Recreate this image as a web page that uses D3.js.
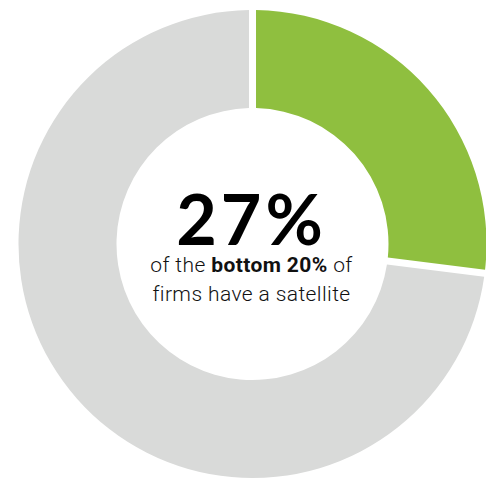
<!DOCTYPE html>
<html>
<head>
<meta charset="utf-8">
<script src="https://cdn.jsdelivr.net/npm/d3@7"></script>
<style>
  html, body { margin: 0; padding: 0; background: #fff; }
  svg { display: block; }
</style>
</head>
<body>
<svg id="chart" width="486" height="479"></svg>
<script>
// Share of bottom-20% firms with a satellite
const categories = ["Have a satellite", "No satellite"];
const values = [27, 73];
const colors = ["#8fbf3f", "#d9dad9"];
const headline = "27%";

const svg = d3.select("#chart");
const cx = 252.5, cy = 244;
const outerR = 234, innerR = 136;

const pie = d3.pie().sort(null).value(d => d.value);
const arc = d3.arc()
  .innerRadius(innerR)
  .outerRadius(outerR)
  .padAngle(0.026)
  .padRadius(Math.sqrt(innerR * innerR + outerR * outerR));

const data = categories.map((c, i) => ({ name: c, value: values[i] }));
const color = d3.scaleOrdinal().domain(categories).range(colors);

const g = svg.append("g").attr("transform", `translate(${cx},${cy})`);
g.selectAll("path")
  .data(pie(data))
  .join("path")
  .attr("d", arc)
  .attr("fill", d => color(d.data.name));

// Center label
const label = svg.append("g").attr("transform", `translate(${cx - 1},0)`);
label.append("text")
  .attr("y", 245)
  .attr("text-anchor", "middle")
  .style("font-family", "Lato, 'Open Sans', sans-serif")
  .style("font-weight", 700)
  .style("font-size", "70px")
  .style("letter-spacing", "4px")
  .attr("fill", "#000")
  .text(headline);

const subStyle = sel => sel
  .attr("text-anchor", "middle")
  .style("font-family", "Roboto, sans-serif")
  .style("font-size", "21px")
  .style("font-weight", 300)
  .style("letter-spacing", "0.4px")
  .attr("fill", "#111");

const line2 = label.append("text").attr("y", 272).call(subStyle);
line2.append("tspan").text("of the ");
line2.append("tspan").style("font-weight", 700).text("bottom 20%");
line2.append("tspan").text(" of");

label.append("text").attr("y", 301).call(subStyle).text("firms have a satellite");
</script>
</body>
</html>
